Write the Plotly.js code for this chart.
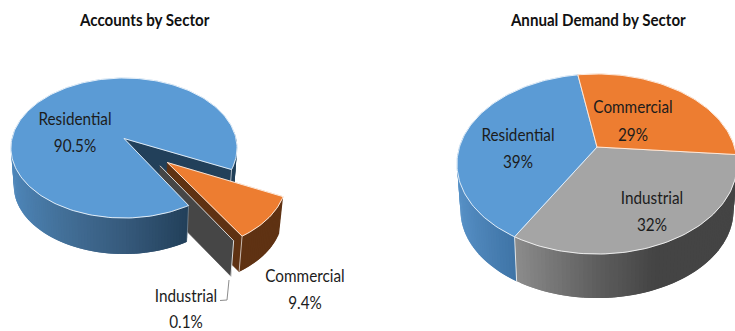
<!DOCTYPE html>
<html>
<head>
<meta charset="utf-8">
<script src="https://cdn.plot.ly/plotly-3.0.1.min.js"></script>
<style>html,body{margin:0;padding:0;background:#fff}#chart{width:735px;height:331px}</style>
</head>
<body>
<div id="chart"></div>
<script>
// Sector shares, in percent
const sectors = ['Residential', 'Commercial', 'Industrial'];
const accountShares = [90.5, 9.4, 0.1];
const demandShares = [39, 29, 32];
const chartTitles = ['Accounts by Sector', 'Annual Demand by Sector'];

const FONT = 'Lato, sans-serif';
const TEXT = '#1c1c1c';
const EDGE = 'rgba(255,255,255,0.8)';
const rad = d => d * Math.PI / 180;

// Perspective disc: centre, radii, tilt strength and thickness of each pie
const accountsPie = {cx: 124, cy: 138.5, rx: 112, ry: 68.7, k: 0.136, depth: 38, shrink: 0.975, start: 59.4};
const demandPie = {cx: 597, cy: 147, rx: 137.5, ry: 86.8, k: 0.189, depth: 46.7, shrink: 0.975, start: 120.1};

function project(pie, u, v, level) {
  const s = 1 / (1 - pie.k * v) * (level ? pie.shrink : 1);
  return [pie.cx + pie.rx * u * s, pie.cy + level * pie.depth + pie.ry * v * s];
}
function rimPoint(pie, deg, off, level) {
  return project(pie, Math.cos(rad(deg)) + off[0], Math.sin(rad(deg)) + off[1], level);
}
function hexToRgb(h) {
  return [1, 3, 5].map(i => parseInt(h.substr(i, 2), 16));
}
function rampColor(stops, u) {
  if (u <= stops[0][0]) return stops[0][1];
  for (let i = 1; i < stops.length; i++) {
    if (u <= stops[i][0]) {
      const f = (u - stops[i - 1][0]) / (stops[i][0] - stops[i - 1][0]);
      const a = hexToRgb(stops[i - 1][1]), b = hexToRgb(stops[i][1]);
      return 'rgb(' + a.map((c, j) => Math.round(c + (b[j] - c) * f)).join(',') + ')';
    }
  }
  return stops[stops.length - 1][1];
}

const traces = [];
function polygon(points, fill, outline) {
  traces.push({
    type: 'scatter', mode: 'lines', hoverinfo: 'skip', showlegend: false,
    x: points.map(p => p[0]).concat(points[0][0]),
    y: points.map(p => p[1]).concat(points[0][1]),
    fill: 'toself', fillcolor: fill,
    line: {color: fill, width: outline === undefined ? 0.6 : outline}
  });
}
function stroke(points, color, width) {
  traces.push({
    type: 'scatter', mode: 'lines', hoverinfo: 'skip', showlegend: false,
    x: points.map(p => p[0]), y: points.map(p => p[1]),
    line: {color: color, width: width}
  });
}
function arc(pie, a, b, off, level) {
  const pts = [], n = Math.max(2, Math.ceil(Math.abs(b - a) / 1.5));
  for (let i = 0; i <= n; i++) pts.push(rimPoint(pie, a + (b - a) * i / n, off, level));
  return pts;
}
function topFace(pie, a, b, off, fill) {
  const pts = [project(pie, off[0], off[1], 0)].concat(arc(pie, a, b, off, 0));
  polygon(pts, fill);
  stroke(pts.concat([pts[0]]), EDGE, 1);
}
function cutFace(pie, deg, off, fill) {
  polygon([
    project(pie, off[0], off[1], 0),
    rimPoint(pie, deg, off, 0),
    rimPoint(pie, deg, off, 1),
    project(pie, off[0], off[1], 1)
  ], fill);
}
// Side wall shaded along x; every strip runs under the next one so no seams show
function wall(pie, a, b, off, stops) {
  const step = 1.5, n = Math.max(1, Math.ceil(Math.abs(b - a) / step));
  const dt = (b - a) / n;
  for (let i = 0; i < n; i++) {
    const t0 = a + dt * i, t1 = i === n - 1 ? b : t0 + dt * 2;
    const pts = arc(pie, t0, t1, off, 0).concat(arc(pie, t1, t0, off, 1));
    polygon(pts, rampColor(stops, Math.cos(rad(t0 + dt / 2))), 0);
  }
}
function wallEdge(pie, deg, off, color, width) {
  stroke([rimPoint(pie, deg, off, 0), rimPoint(pie, deg, off, 1)], color, width);
}

const BLUE = '#5b9bd5', ORANGE = '#ed7d31', GREY = '#a5a5a5';
const NAVY = '#22405a', BROWN = '#5f3213', SLATE = '#464646';

// Accounts pie, with the two small slices pulled out of the disc
(function () {
  const p = accountsPie, deg = accountShares.map(v => v * 3.6);
  const resEnd = p.start + deg[0];
  const comStart = resEnd - 360, comEnd = comStart + deg[1], indEnd = comEnd + deg[2];
  const none = [0, 0];
  const comDir = rad((comStart + comEnd) / 2);
  const comOff = [0.4975 * Math.cos(comDir), 0.4975 * Math.sin(comDir)];
  const indOff = [0.485 * Math.cos(rad(51)), 0.485 * Math.sin(rad(51))];

  wall(p, -6, comStart, none, [[-1, NAVY], [1, NAVY]]);
  cutFace(p, comStart, none, NAVY);
  stroke([rimPoint(p, comStart, none, 0), rimPoint(p, comStart, none, 1)], EDGE, 0.8);

  cutFace(p, comEnd, comOff, BROWN);
  wall(p, comStart, comEnd, comOff, [[-1, BROWN], [1, BROWN]]);
  wallEdge(p, comEnd, comOff, 'rgba(255,255,255,0.65)', 1);
  topFace(p, comStart, comEnd, comOff, ORANGE);

  cutFace(p, indEnd, indOff, SLATE);
  stroke([project(p, indOff[0], indOff[1], 0), rimPoint(p, indEnd, indOff, 0)], EDGE, 1);
  wallEdge(p, indEnd, indOff, EDGE, 1);

  wall(p, 190, p.start, none, [[-1, '#4f88bc'], [-0.5, '#437099'], [0, '#365a7c'], [0.5, NAVY]]);
  wallEdge(p, p.start, none, 'rgba(255,255,255,0.5)', 0.6);
  topFace(p, p.start, resEnd, none, BLUE);
})();

// Demand pie, a closed disc
(function () {
  const p = demandPie, deg = demandShares.map(v => v * 3.6);
  const resEnd = p.start + deg[0];
  const comEnd = resEnd + deg[1], indEnd = comEnd + deg[2];
  const none = [0, 0];
  wall(p, 190, p.start, none, [[-1, '#5a94ca'], [-0.5, '#3f74a6']]);
  wall(p, indEnd - 360, comEnd - 360, none, [[-0.5, '#8c8c8c'], [0, '#5e5e5e'], [0.35, '#444444'], [1, '#444444']]);
  wallEdge(p, p.start, none, 'rgba(255,255,255,0.75)', 1);
  topFace(p, comEnd - 360, p.start, none, GREY);
  topFace(p, p.start, resEnd, none, BLUE);
  topFace(p, resEnd, comEnd, none, ORANGE);
})();

// Leader line of the Industrial label
const leaderX = [229, 227, 220];
const leaderY = [280, 300, 300.5];
stroke(leaderX.map((x, i) => [x, leaderY[i]]), '#8c8c8c', 1);

// Data labels: name on one line, share on the next
const accountLabelX = [75, 305, 186];
const accountNameY = [120.5, 277.5, 297.5];
const accountShareY = [147.5, 304.5, 323.5];
const demandLabelX = [518, 633, 652];
const demandNameY = [136.5, 108.5, 199.5];
const demandShareY = [163.5, 136.5, 226.5];

function labels(xs, ys, text) {
  traces.push({
    type: 'scatter', mode: 'text', hoverinfo: 'skip', showlegend: false,
    x: xs, y: ys, text: text, textposition: 'middle center',
    textfont: {family: FONT, size: 18, color: TEXT}
  });
}
labels(accountLabelX, accountNameY, sectors);
labels(accountLabelX, accountShareY, accountShares.map(v => v.toFixed(1) + '%'));
labels(demandLabelX, demandNameY, sectors);
labels(demandLabelX, demandShareY, demandShares.map(v => v + '%'));

const titleX = [144, 598];
const layout = {
  width: 735, height: 331,
  margin: {l: 0, r: 0, t: 0, b: 0},
  paper_bgcolor: '#fff', plot_bgcolor: '#fff',
  showlegend: false,
  xaxis: {range: [0, 735], visible: false, fixedrange: true},
  yaxis: {range: [331, 0], visible: false, fixedrange: true},
  annotations: chartTitles.map((t, i) => ({
    text: '<b>' + t + '</b>', x: titleX[i], y: 19, xref: 'x', yref: 'y',
    showarrow: false, xanchor: 'center', yanchor: 'middle',
    font: {family: FONT, size: 17, color: '#111'}
  }))
};

// Narrow the set type horizontally about each text's own centre
function condense(selector, factor) {
  document.querySelectorAll(selector).forEach(el => {
    const box = el.getBBox(), mid = box.x + box.width / 2;
    const prior = el.getAttribute('transform') || '';
    el.setAttribute('transform',
      prior + ' translate(' + mid + ' 0) scale(' + factor + ' 1) translate(' + (-mid) + ' 0)');
  });
}
Plotly.newPlot('chart', traces, layout, {displayModeBar: false, staticPlot: true}).then(() => {
  condense('#chart .textpoint text', 0.85);
  condense('#chart .annotation-text', 0.89);
});
</script>
</body>
</html>
